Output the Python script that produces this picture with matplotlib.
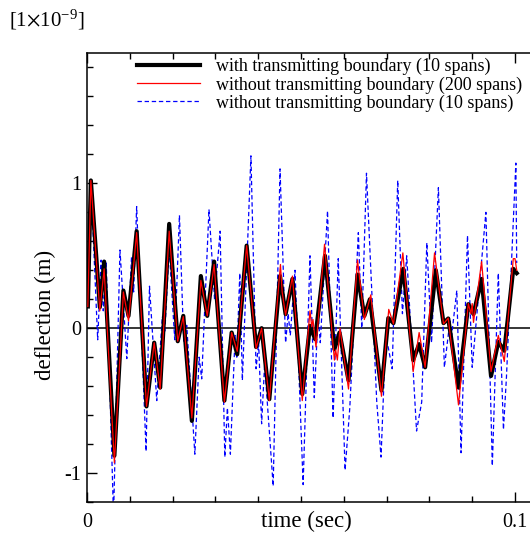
import numpy as np
import matplotlib as mpl
import matplotlib.pyplot as plt
from matplotlib.ticker import MultipleLocator

# values (time in s, deflection in 1e-9 m)
t_black = [0.0002, 0.0009, 0.0030, 0.0040, 0.0064, 0.0085, 0.0097, 0.0116,
           0.0139, 0.0157, 0.0171, 0.0192, 0.0212, 0.0225, 0.0245, 0.0266,
           0.0281, 0.0297, 0.0321, 0.0338, 0.0351, 0.0373, 0.0395, 0.0408,
           0.0426, 0.0451, 0.0464, 0.0480, 0.0503, 0.0521, 0.0533, 0.0556,
           0.0578, 0.0590, 0.0611, 0.0632, 0.0648, 0.0661, 0.0688, 0.0704,
           0.0716, 0.0739, 0.0762, 0.0776, 0.0790, 0.0815, 0.0833, 0.0844,
           0.0868, 0.0891, 0.0903, 0.0922, 0.0944, 0.0961, 0.0975, 0.0996,
           0.1004]
v_black = [0.15, 1.02, 0.145, 0.46, -0.88, 0.26, 0.085, 0.67,
           -0.54, -0.10, -0.41, 0.72, -0.09, 0.085, -0.64, 0.36,
           0.085, 0.46, -0.50, -0.03, -0.18, 0.57, -0.13, 0.00,
           -0.49, 0.36, 0.097, 0.34, -0.455, 0.016, -0.076, 0.50,
           -0.145, -0.03, -0.36, 0.37, 0.085, 0.20, -0.43, 0.07,
           0.035, 0.41, -0.22, -0.11, -0.27, 0.40, 0.035, 0.067,
           -0.41, 0.166, 0.097, 0.34, -0.33, -0.094, -0.156, 0.41,
           0.38]

t_red = [0.0002, 0.0009, 0.0030, 0.0040, 0.0064, 0.0085, 0.0097, 0.0116,
         0.0139, 0.0157, 0.0171, 0.0192, 0.0212, 0.0225, 0.0245, 0.0266,
         0.0281, 0.0297, 0.0321, 0.0338, 0.0351, 0.0373, 0.0395, 0.0408,
         0.0426, 0.0448, 0.0452, 0.0456, 0.0464, 0.0480, 0.0503, 0.0521,
         0.0525, 0.0528, 0.0535, 0.0555, 0.0578, 0.0581, 0.0585, 0.0591,
         0.0611, 0.0632, 0.0648, 0.0663, 0.0688, 0.0705, 0.0716, 0.0738,
         0.0762, 0.0776, 0.0790, 0.0812, 0.0833, 0.0844, 0.0868, 0.0891,
         0.0897, 0.0900, 0.0903, 0.0922, 0.0944, 0.0961, 0.0975, 0.0996,
         0.1000, 0.1004]
v_red = [0.15, 1.02, 0.12, 0.41, -0.93, 0.25, 0.05, 0.66,
         -0.54, -0.10, -0.42, 0.67, -0.09, 0.08, -0.62, 0.33,
         0.085, 0.44, -0.51, -0.03, -0.16, 0.57, -0.14, 0.00,
         -0.50, 0.30, 0.44, 0.25, 0.09, 0.36, -0.50, 0.12,
         0.01, 0.06, -0.13, 0.58, -0.22, -0.15, -0.22, 0.00,
         -0.42, 0.47, 0.06, 0.23, -0.47, 0.13, 0.03, 0.52,
         -0.30, -0.03, -0.27, 0.52, 0.03, 0.07, -0.53, 0.17,
         0.10, 0.17, 0.04, 0.46, -0.30, -0.05, -0.23, 0.48,
         0.48, 0.40]

t_blue = [0.0000, 0.0009, 0.0025, 0.0033, 0.0038, 0.0045, 0.0062, 0.0077,
          0.0093, 0.0104, 0.0109, 0.0116, 0.0138, 0.0146, 0.0163, 0.0176,
          0.0182, 0.0192, 0.0205, 0.0216, 0.0226, 0.0233, 0.0252, 0.0262,
          0.0268, 0.0285, 0.0298, 0.0311, 0.0322, 0.0328, 0.0335, 0.0346,
          0.0350, 0.0357, 0.0363, 0.0383, 0.0395, 0.0401, 0.0408, 0.0415,
          0.0435, 0.0451, 0.0464, 0.0470, 0.0475, 0.0486, 0.0505, 0.0521,
          0.0531, 0.0540, 0.0545, 0.0562, 0.0575, 0.0587, 0.0603, 0.0614,
          0.0634, 0.0642, 0.0653, 0.0677, 0.0687, 0.0698, 0.0705, 0.0713,
          0.0726, 0.0737, 0.0747, 0.0770, 0.0782, 0.0794, 0.0805, 0.0821,
          0.0835, 0.0848, 0.0852, 0.0864, 0.0874, 0.0889, 0.0900, 0.0932,
          0.0947, 0.0961, 0.0973, 0.0980, 0.1002, 0.1004]
v_blue = [0.15, 1.02, -0.08, 0.47, 0.12, 0.45, -1.30, 0.54,
          -0.21, 0.49, 0.25, 0.84, -0.85, 0.29, -0.50, 0.08,
          -0.02, 0.55, -0.08, 0.78, -0.10, 0.02, -0.87, -0.20,
          -0.35, 0.82, 0.20, 0.67, -0.89, -0.55, -0.87, -0.05,
          -0.20, 0.38, -0.36, 1.19, -0.28, -0.10, -0.66, -0.25,
          -1.09, 1.10, -0.10, 0.10, -0.05, 0.40, -1.08, 0.50,
          -0.48, 0.10, -0.10, 0.81, -0.62, 0.48, -0.98, -0.55,
          0.66, 0.00, 1.07, -0.51, -0.89, -0.05, -0.15, -0.28,
          1.02, 0.10, 0.50, -0.71, -0.51, 0.59, -0.10, 0.97,
          -0.27, 0.05, -0.05, 0.26, -0.86, 0.64, -0.27, 0.80,
          -0.95, 0.38, -0.70, -0.34, 1.14, 0.45]

LABELS = [
    "with transmitting boundary (10 spans)",
    "without transmitting boundary (200 spans)",
    "without transmitting boundary (10 spans)",
]

mpl.rcParams.update({
    "font.family": "serif",
    "font.serif": ["Liberation Serif", "DejaVu Serif"],
    "mathtext.fontset": "stix",
    "xtick.direction": "in",
    "ytick.direction": "in",
})

W, H = 530, 535
fig = plt.figure(figsize=(W / 100, H / 100), dpi=100)
# axes box: x=0 at px 87, 0.1 at px 515; y from -1.2 (px 502) to 1.9 (px 53)
ax = fig.add_axes([87 / W, (H - 502) / H, 0.105 * 4280 / W, 449 / H])

ax.axhline(0, color="black", lw=1.1, zorder=1)
ax.plot(t_blue, v_blue, color="#0000ff", lw=0.9, ls=(0, (3.5, 2.2)),
        zorder=2, label=LABELS[2])
ax.plot(t_black, v_black, color="black", lw=3.0, zorder=3,
        solid_joinstyle="round", label=LABELS[0])
ax.plot(t_red, v_red, color="#ff0000", lw=0.9, zorder=4,
        solid_joinstyle="round", label=LABELS[1])

ax.set_xlim(0, 0.105)
ax.set_ylim(-1.2, 1.9)
ax.set_xticks([0, 0.1])
ax.set_xticklabels(["0", "0.1"])
ax.set_yticks([-1, 0, 1])
ax.set_yticklabels(["-1", "0", "1"])
ax.xaxis.set_minor_locator(MultipleLocator(0.01))
ax.yaxis.set_minor_locator(MultipleLocator(0.2))
ax.tick_params(which="both", top=True, right=False, labelsize=14.5, width=1.0)
ax.tick_params(which="major", length=7)
ax.tick_params(which="minor", length=4)
ax.tick_params(axis="x", pad=8)
ax.tick_params(axis="y", pad=4)
for side in ("left", "bottom", "top"):
    ax.spines[side].set_linewidth(1.1)
ax.spines["right"].set_visible(False)

handles, labels = ax.get_legend_handles_labels()
order = [1, 2, 0]
ax.legend([handles[i] for i in order], [labels[i] for i in order],
          loc="upper left", bbox_to_anchor=(137 / W, 1 - 58 / H),
          bbox_transform=fig.transFigure, frameon=False, fontsize=13,
          handlelength=3.5, handletextpad=0.85, labelspacing=0.05,
          borderpad=0, borderaxespad=0)

fig.text(306 / W, 1 - 521 / H, "time (sec)", ha="center", va="center",
         fontsize=16.5)
fig.text(45 / W, 1 - 315 / H, "deflection (m)", ha="center", va="center",
         rotation=90, fontsize=16.5)
fig.text(9 / W, 1 - 20 / H, r"[1$\times$10$^{\mathregular{-9}}$]",
         ha="left", va="center", fontsize=15)

fig.savefig("out.png", dpi=100)
